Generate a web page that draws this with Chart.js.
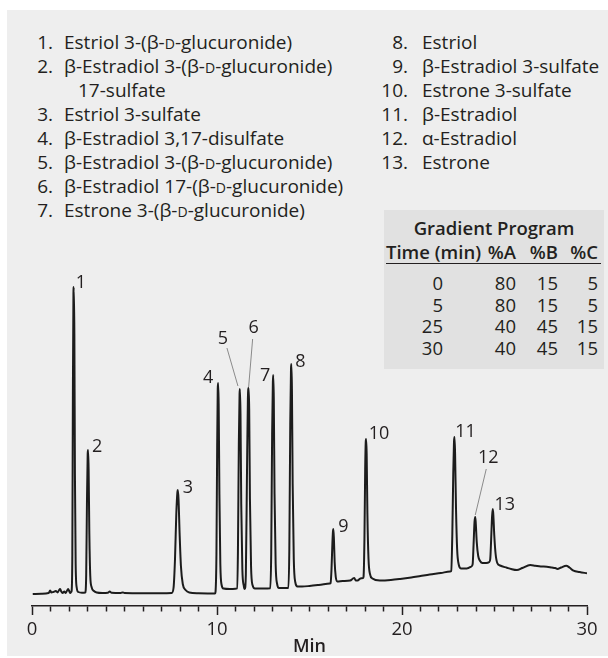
<!DOCTYPE html>
<html>
<head>
<meta charset="utf-8">
<script src="https://cdn.jsdelivr.net/npm/chart.js@4.4.1/dist/chart.umd.min.js"></script>
<style>
  body { margin: 0; background: #fff; width: 608px; height: 658px; overflow: hidden; position: relative;
         font-family: "Open Sans", sans-serif; color: #231f20; }
  #panel { position: absolute; left: 7px; top: 10px; width: 601px; height: 646px; background: #eeeeee; }
  #chart { position: absolute; left: 0; top: 0; }
  .row { position: absolute; font-size: 19px; line-height: 24px; height: 24px; white-space: nowrap; }
  .num { position: absolute; text-align: right; }
  .sc { font-size: 0.74em; }
  #grad { position: absolute; left: 384px; top: 210px; width: 220px; height: 159px; background: #e1e1e1; }
  .cell { position: absolute; font-size: 18.5px; line-height: 22px; white-space: nowrap; }
  .b { font-weight: 600; }
</style>
</head>
<body>
<div id="panel"></div>
<div id="grad"></div>
<div id="legend"></div>
<div id="table"></div>
<canvas id="chart" width="608" height="658"></canvas>
<script>
// chromatogram trace, time in minutes and detector signal (arbitrary units)
const times = [
  0.04, 0.5, 0.9, 0.98, 1.05, 1.15, 1.29, 1.38, 1.45, 1.52, 1.58, 1.65, 1.75, 1.82, 1.95, 2.02, 2.07, 2.12,
  2.14, 2.18, 2.21, 2.24, 2.26, 2.29, 2.32, 2.36, 2.42, 2.5, 2.7,
  2.88, 2.93, 2.97, 3.01, 3.03, 3.06, 3.1, 3.15, 3.22, 3.35, 3.5,
  3.8, 4.1, 4.2, 4.3, 4.8, 4.9, 5.0, 6.0, 7.0,
  7.55, 7.65, 7.73, 7.8, 7.86, 7.88, 7.92, 7.98, 8.05, 8.15, 8.3, 8.5, 9.0, 9.5, 9.9,
  9.92, 9.97, 10.01, 10.04, 10.06, 10.09, 10.13, 10.18, 10.25, 10.35, 10.7, 11.0,
  11.08, 11.13, 11.18, 11.22, 11.24, 11.27, 11.31, 11.37, 11.45, 11.5,
  11.56, 11.62, 11.67, 11.71, 11.74, 11.78, 11.84, 11.92, 12.05, 12.5,
  12.88, 12.93, 12.98, 13.02, 13.04, 13.07, 13.11, 13.17, 13.25, 13.35, 13.7,
  13.86, 13.91, 13.96, 14.0, 14.02, 14.05, 14.09, 14.15, 14.23, 14.35, 14.6, 15.0, 15.5, 16.1,
  16.14, 16.19, 16.24, 16.27, 16.29, 16.32, 16.36, 16.42, 16.5, 16.8,
  17.2, 17.35, 17.42, 17.5, 17.6, 17.75, 17.9,
  17.92, 17.97, 18.01, 18.04, 18.06, 18.09, 18.13, 18.19, 18.27, 18.4, 18.8,
  19.4, 19.9, 20.5, 21.0, 21.5, 22.1, 22.6,
  22.66, 22.72, 22.77, 22.81, 22.84, 22.87, 22.92, 22.98, 23.06, 23.2, 23.5, 23.75,
  23.82, 23.87, 23.92, 23.96, 23.99, 24.04, 24.12, 24.22, 24.35, 24.55, 24.72,
  24.77, 24.82, 24.87, 24.91, 24.94, 24.99, 25.06, 25.15, 25.3,
  25.67, 25.9, 26.21, 26.5, 26.93, 27.2, 27.5, 27.83, 28.1, 28.28, 28.4, 28.6, 28.88, 29.05, 29.27, 29.6, 30.0
];
const signal = [
  0, 0.3, 1, 3.5, 1.5, 2, 3, 1.5, 3.5, 5, 2.5, 1, 2.5, 1, 5, 2.5, 1, 2,
  3, 40, 200, 300, 307, 260, 120, 30, 6, 2, 1.3,
  1.5, 20, 90, 140, 144, 125, 60, 18, 7, 3, 1.5,
  1, 1.2, 2.5, 1.2, 1, 1.6, 1, 0.8, 0.8,
  1, 6, 35, 80, 102, 104, 95, 60, 28, 10, 4, 1.5, 0.8, 0.6, 0.5,
  2, 40, 150, 205, 211, 190, 100, 30, 9, 5.5, 5, 5.2,
  5.5, 40, 150, 200, 205, 180, 90, 25, 8, 5,
  20, 120, 195, 206, 185, 95, 28, 9, 5.5, 5.5,
  5.7, 40, 160, 212, 219, 195, 100, 30, 10, 6, 6,
  6, 45, 170, 225, 230, 205, 110, 35, 12, 7.5, 7.5, 8, 9, 10.5,
  11, 25, 52, 63, 65, 55, 32, 17, 12.5, 13,
  13.5, 15.5, 16, 13.5, 13.5, 15.5, 16,
  17, 55, 125, 152, 155, 140, 80, 35, 20, 15.5, 13.5,
  14, 15, 16.5, 18, 19.5, 21, 22.5,
  23, 60, 120, 152, 157, 140, 85, 45, 30, 25.5, 25.5, 27.5,
  30, 50, 72, 77, 70, 52, 38, 33, 31, 31, 32,
  35, 55, 78, 85, 78, 58, 40, 31, 28.5,
  26.3, 25, 24, 26, 29, 28.3, 27.5, 27.3, 26.5, 26, 25, 26.5, 28.3, 26.5, 23.3, 22, 20.7
];
const peakNumbers = ['1', '2', '3', '4', '5', '6', '7', '8', '9', '10', '11', '12', '13'];
const peakTimes = [2.26, 3.03, 7.88, 10.06, 11.24, 11.71, 13.04, 14.02, 16.29, 18.06, 22.84, 23.96, 24.91];
const peakHeights = [307, 144, 104, 211, 205, 206, 219, 230, 65, 155, 157, 77, 85];
const xTickLabels = [0, 10, 20, 30];

const compounds = [
  'Estriol 3-(β-<span class="sc">D</span>-glucuronide)',
  'β-Estradiol 3-(β-<span class="sc">D</span>-glucuronide)',
  'Estriol 3-sulfate',
  'β-Estradiol 3,17-disulfate',
  'β-Estradiol 3-(β-<span class="sc">D</span>-glucuronide)',
  'β-Estradiol 17-(β-<span class="sc">D</span>-glucuronide)',
  'Estrone 3-(β-<span class="sc">D</span>-glucuronide)',
  'Estriol',
  'β-Estradiol 3-sulfate',
  'Estrone 3-sulfate',
  'β-Estradiol',
  'α-Estradiol',
  'Estrone'
];

const gradTime = [0, 5, 25, 30];
const gradA = [80, 80, 40, 40];
const gradB = [15, 15, 45, 45];
const gradC = [5, 5, 15, 15];

// label offsets from each peak apex, in px
const labelOffsets = [[7, -4], [9, -3], [10, -2], [-10, -5], [-17, -50], [5, -60], [-8, 1], [9, -2],
  [10, -2], [13, -5], [11, -5], [13, -59], [12, -4]];
const leaders = { 4: [-13, -41, -2, -3], 5: [4, -49, 0, -1], 11: [11, -48, 0, -2] };

// legend
let html = '';
compounds.forEach((c, i) => {
  const left = i < 7;
  let row = left ? i : i - 7;
  if (left && i > 1) row += 1;
  const y = 42 + row * 24 - 12;
  const numRight = left ? 53 : 408;
  const textLeft = left ? 64 : 422;
  html += `<div class="row num" style="top:${y}px;left:${numRight - 40}px;width:40px">${i + 1}.</div>`;
  html += `<div class="row" style="top:${y}px;left:${textLeft}px">${c}</div>`;
  if (i === 1) html += `<div class="row" style="top:${y + 24}px;left:78px">17-sulfate</div>`;
});
document.getElementById('legend').innerHTML = html;

// gradient table
let t = '';
t += `<div class="cell b" style="top:217px;left:384px;width:220px;text-align:center">Gradient Program</div>`;
t += `<div class="cell b" style="top:241px;left:386px;border-bottom:1.5px solid #231f20;width:215px;height:22px">Time (min)</div>`;
const cols = [[gradTime, 443], [gradA, 516], [gradB, 558], [gradC, 598]];
const heads = ['%A', '%B', '%C'];
heads.forEach((h, j) => {
  t += `<div class="cell b" style="top:241px;left:${cols[j + 1][1] - 40}px;width:40px;text-align:right">${h}</div>`;
});
gradTime.forEach((_, r) => {
  cols.forEach(([arr, right]) => {
    t += `<div class="cell" style="top:${272 + r * 21.5}px;left:${right - 40}px;width:40px;text-align:right">${arr[r]}</div>`;
  });
});
document.getElementById('table').innerHTML = t;

const ink = '#231f20';

const peakLabels = {
  id: 'peakLabels',
  afterDatasetsDraw(chart) {
    const { ctx, scales: { x, y } } = chart;
    ctx.save();
    ctx.font = '18px "Open Sans"';
    ctx.fillStyle = ink;
    ctx.textAlign = 'center';
    ctx.textBaseline = 'middle';
    peakNumbers.forEach((n, i) => {
      const px = x.getPixelForValue(peakTimes[i]);
      const py = y.getPixelForValue(peakHeights[i]);
      ctx.fillText(n, px + labelOffsets[i][0], py + labelOffsets[i][1]);
      const l = leaders[i];
      if (l) {
        ctx.strokeStyle = '#8a8a8a';
        ctx.lineWidth = 1;
        ctx.beginPath();
        ctx.moveTo(px + l[0], py + l[1]);
        ctx.lineTo(px + l[2], py + l[3]);
        ctx.stroke();
      }
    });
    ctx.restore();
  }
};

new Chart(document.getElementById('chart'), {
  type: 'line',
  data: {
    datasets: [{
      data: times.map((tm, i) => ({ x: tm, y: signal[i] })),
      borderColor: '#1c1c1c',
      borderWidth: 2,
      pointRadius: 0,
      cubicInterpolationMode: 'monotone',
      fill: false
    }]
  },
  options: {
    responsive: false,
    animation: false,
    layout: { padding: { top: 240, left: 32, right: 21, bottom: 0 } },
    plugins: { legend: { display: false }, tooltip: { enabled: false } },
    scales: {
      x: {
        type: 'linear',
        min: 0,
        max: 30,
        afterFit: s => { s.height = 52; },
        border: { color: ink, width: 1.5 },
        grid: {
          drawOnChartArea: false,
          tickLength: 9,
          tickWidth: 1.5,
          tickColor: ink,
          tickBorderDash: c => (c.tick && c.tick.value % 10 === 0) ? [] : [5, 20]
        },
        ticks: {
          stepSize: 1,
          autoSkip: false,
          maxRotation: 0,
          padding: 4,
          color: ink,
          font: { family: 'Open Sans', size: 18.5 },
          callback: v => xTickLabels.includes(v) ? String(v) : ''
        },
        title: {
          display: true,
          text: 'Min',
          color: ink,
          font: { family: 'Open Sans', size: 18, weight: '600' },
          padding: { top: 0, bottom: 0 }
        }
      },
      y: { display: false, min: -12, max: 354 }
    }
  },
  plugins: [peakLabels]
});
</script>
</body>
</html>
